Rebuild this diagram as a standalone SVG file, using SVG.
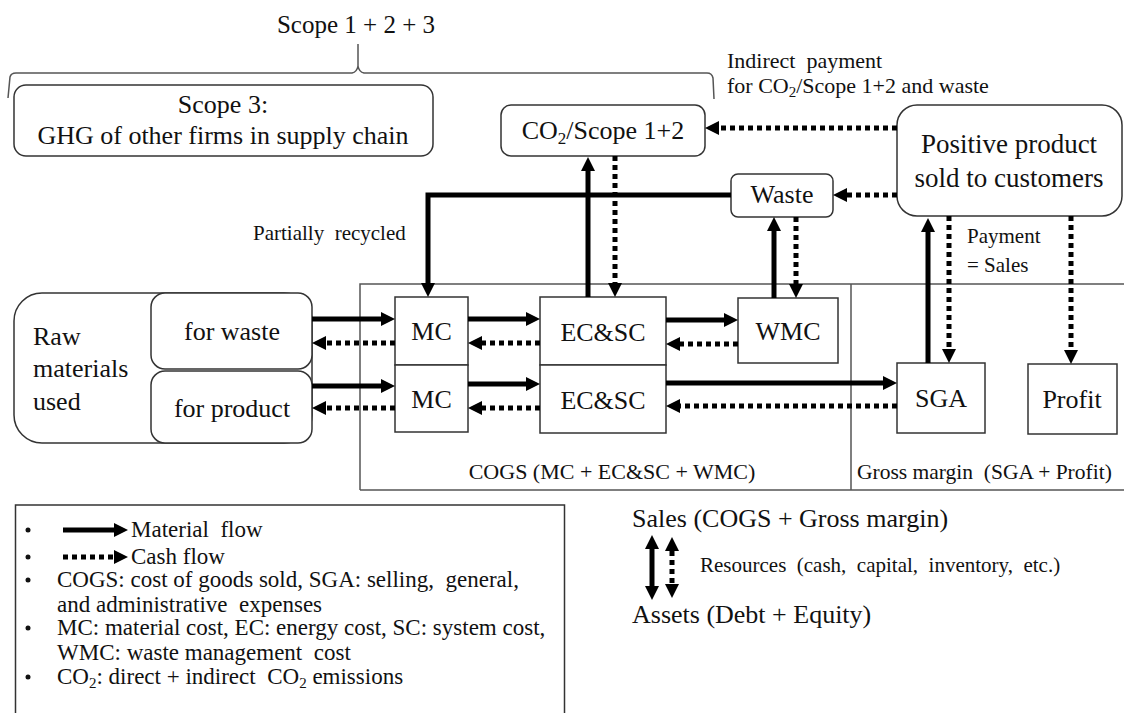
<svg xmlns="http://www.w3.org/2000/svg" width="1124" height="713" viewBox="0 0 1124 713">
<defs>
<marker id="ah" viewBox="0 0 14 14" refX="0" refY="7" markerWidth="14" markerHeight="14" markerUnits="userSpaceOnUse" orient="auto-start-reverse"><path d="M0,0 L14,7 L0,14 Z" fill="#000"/></marker>
<style>
text{font-family:"Liberation Serif","Times New Roman",serif;fill:#111}
.box{fill:#fff;stroke:#333;stroke-width:1.5}
.frame{fill:none;stroke:#555;stroke-width:1.5}
.m{fill:none;stroke:#000;stroke-width:5;marker-end:url(#ah)}
.c{fill:none;stroke:#000;stroke-width:5;stroke-dasharray:5 4;marker-end:url(#ah)}
.big{font-size:26px}
.mid{font-size:22px}
.sm{font-size:21px}
.lg{font-size:23px}
.ctr{text-anchor:middle}
</style>
</defs>
<rect width="1124" height="713" fill="#fff"/>

<g id="scope-brace">
<text class="ctr" x="356" y="33" style="font-size:25px">Scope 1 + 2 + 3</text>
<path class="frame" d="M8,98 L10,77 Q11,73 16,73 L352,73 Q357,72 358,66 L358,44 M358,66 Q359,72 364,73 L707,73 Q712,73 713,78 L714,99"/>
</g>

<g id="frame">
<path class="frame" d="M360,490 V284 H1124 M360,490 H1124 M851,284 V490"/>
<text class="mid ctr" x="612" y="479">COGS (MC + EC&amp;SC + WMC)</text>
<text x="857" y="479" style="font-size:21.5px" xml:space="preserve">Gross margin  (SGA + Profit)</text>
</g>

<g id="scope3">
<rect class="box" x="14" y="85" width="419" height="71" rx="12"/>
<text class="big ctr" x="223" y="113">Scope 3:</text>
<text class="big ctr" x="223" y="144">GHG of other firms in supply chain</text>
</g>

<g id="co2">
<rect class="box" x="501" y="105" width="204" height="51" rx="10"/>
<text class="big ctr" x="603" y="139">CO<tspan style="font-size:17px" dy="5">2</tspan><tspan dy="-5">/Scope 1+2</tspan></text>
</g>

<g id="indirect-label">
<text class="mid" x="727" y="68" xml:space="preserve">Indirect  payment</text>
<text class="mid" x="727" y="93">for CO<tspan style="font-size:15px" dy="4">2</tspan><tspan dy="-4">/Scope 1+2 and waste</tspan></text>
</g>

<g id="positive">
<rect class="box" x="897" y="105" width="225" height="111" rx="20"/>
<text class="ctr" x="1009" y="153" style="font-size:27px">Positive product</text>
<text class="ctr" x="1009" y="187" style="font-size:27px">sold to customers</text>
</g>

<g id="waste">
<rect class="box" x="731" y="174" width="102" height="43" rx="7"/>
<text class="big ctr" x="782" y="203">Waste</text>
</g>

<g id="raw">
<rect class="box" x="14" y="293" width="298" height="150" rx="28"/>
<text class="big" x="33" y="345">Raw</text>
<text class="big" x="33" y="377">materials</text>
<text class="big" x="33" y="410">used</text>
</g>
<g id="raw-waste">
<rect class="box" x="151" y="293" width="161" height="76" rx="14"/>
<text class="big ctr" x="232" y="340">for waste</text>
</g>
<g id="raw-product">
<rect class="box" x="151" y="371" width="161" height="72" rx="14"/>
<text class="big ctr" x="232" y="417">for product</text>
</g>

<g id="mc1"><rect class="box" x="395" y="297" width="73" height="68"/><text class="big ctr" x="431.5" y="340">MC</text></g>
<g id="mc2"><rect class="box" x="395" y="365" width="73" height="67"/><text class="big ctr" x="431.5" y="408">MC</text></g>
<g id="ecsc1"><rect class="box" x="540" y="297" width="126" height="68"/><text class="big ctr" x="603" y="341">EC&amp;SC</text></g>
<g id="ecsc2"><rect class="box" x="540" y="365" width="126" height="68"/><text class="big ctr" x="603" y="409">EC&amp;SC</text></g>
<g id="wmc"><rect class="box" x="738" y="298" width="100" height="65"/><text class="big ctr" x="788" y="340">WMC</text></g>
<g id="sga"><rect class="box" x="897" y="363" width="88" height="70"/><text class="big ctr" x="941" y="407">SGA</text></g>
<g id="profit"><rect class="box" x="1028" y="364" width="89" height="70"/><text class="big ctr" x="1072" y="408">Profit</text></g>

<g id="labels">
<text class="sm" x="253" y="240" xml:space="preserve">Partially  recycled</text>
<text class="sm" x="967" y="243">Payment</text>
<text class="sm" x="967" y="272">= Sales</text>
</g>

<g id="connectors">
<path class="m" d="M312,319 H381"/>
<path class="c" d="M395,343 H326"/>
<path class="m" d="M312,386 H381"/>
<path class="c" d="M395,408 H326"/>
<path class="m" d="M468,319 H526"/>
<path class="c" d="M540,343 H482"/>
<path class="m" d="M468,384 H526"/>
<path class="c" d="M540,408 H482"/>
<path class="m" d="M666,320 H724"/>
<path class="c" d="M738,344 H680"/>
<path class="m" d="M666,383 H883"/>
<path class="c" d="M897,406 H680"/>
<path class="m" d="M588,297 V171"/>
<path class="c" d="M615,156 V283"/>
<path class="m" d="M731,195 H428 V283"/>
<path class="m" d="M774,298 V231"/>
<path class="c" d="M796,217 V284"/>
<path class="m" d="M928,363 V232"/>
<path class="c" d="M949,216 V349"/>
<path class="c" d="M1071,216 V350"/>
<path class="c" d="M897,128 H719"/>
<path class="c" d="M897,195 H847"/>
</g>

<g id="legend">
<rect x="15.5" y="505" width="549" height="220" fill="none" stroke="#333" stroke-width="1.5"/>
<g fill="#111">
<circle cx="28" cy="530" r="2.5"/>
<circle cx="28" cy="557" r="2.5"/>
<circle cx="28" cy="580" r="2.5"/>
<circle cx="28" cy="628" r="2.5"/>
<circle cx="28" cy="677" r="2.5"/>
</g>
<path class="m" d="M63,530 H114"/>
<path class="c" d="M63,557 H114"/>
<text class="lg" x="131" y="537" xml:space="preserve">Material  flow</text>
<text class="lg" x="131" y="564">Cash flow</text>
<text class="lg" x="57" y="587" xml:space="preserve">COGS: cost of goods sold, SGA: selling,  general,</text>
<text class="lg" x="57" y="612" xml:space="preserve">and administrative  expenses</text>
<text class="lg" x="57" y="635">MC: material cost, EC: energy cost, SC: system cost,</text>
<text class="lg" x="57" y="660" xml:space="preserve">WMC: waste management  cost</text>
<text class="lg" x="57" y="684" xml:space="preserve">CO<tspan style="font-size:15px" dy="4">2</tspan><tspan dy="-4">: direct + indirect  CO</tspan><tspan style="font-size:15px" dy="4">2</tspan><tspan dy="-4"> emissions</tspan></text>
</g>

<g id="sales-assets">
<text class="big" x="632" y="527">Sales (COGS + Gross margin)</text>
<text class="sm" x="700" y="572" xml:space="preserve">Resources  (cash,  capital,  inventory,  etc.)</text>
<text class="big" x="632" y="623">Assets (Debt + Equity)</text>
<path d="M652,549 V586" fill="none" stroke="#000" stroke-width="5" marker-start="url(#ah)" marker-end="url(#ah)"/>
<path d="M672,551 V584" fill="none" stroke="#000" stroke-width="5" stroke-dasharray="5 4" marker-start="url(#ah)" marker-end="url(#ah)"/>
</g>
</svg>
